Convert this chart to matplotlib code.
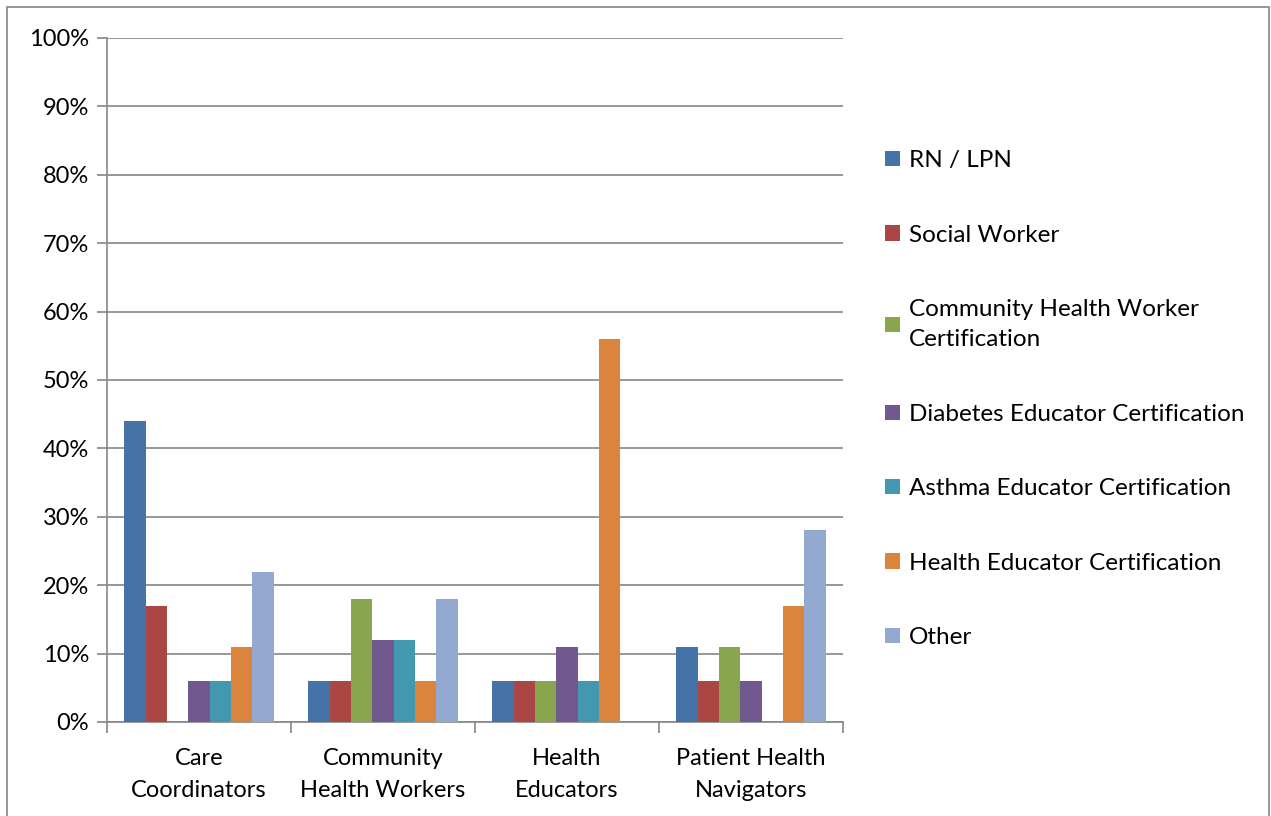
import numpy as np
import matplotlib
matplotlib.use("Agg")
import matplotlib.pyplot as plt
from matplotlib.patches import Rectangle

plt.rcParams['font.family'] = ['Lato', 'DejaVu Sans']

categories = ["Care\nCoordinators", "Community\nHealth Workers", "Health\nEducators", "Patient Health\nNavigators"]
series = ["RN / LPN", "Social Worker", "Community Health Worker\nCertification",
          "Diabetes Educator Certification", "Asthma Educator Certification",
          "Health Educator Certification", "Other"]
values = [
    [44, 6, 6, 11],
    [17, 6, 6, 6],
    [0, 18, 6, 11],
    [6, 12, 11, 6],
    [6, 12, 6, 0],
    [11, 6, 56, 17],
    [22, 18, 0, 28],
]
colors = ["#4572A7", "#AA4643", "#89A54E", "#71588F", "#4198AF", "#DB843D", "#93A9CF"]

fig = plt.figure(figsize=(12.71, 8.16), dpi=100)
ax = fig.add_axes([107/1271, 1-722/816, (843-107)/1271, (722-38)/816])

x = np.arange(len(categories))
w = 0.116
for i, (name, vals) in enumerate(zip(series, values)):
    ax.bar(x + (i - 3) * w, np.array(vals) / 100, w, color=colors[i], label=name, zorder=3)

ax.set_xlim(-0.5, 3.5)
ax.set_ylim(0, 1)
ax.set_yticks(np.arange(0, 1.01, 0.1))
ax.set_yticklabels([f"{int(round(v*100))}%" for v in np.arange(0, 1.01, 0.1)])
ax.yaxis.grid(True, color="#868686", linewidth=1.2, zorder=0)
ax.set_xticks(x)
ax.set_xticklabels(categories, linespacing=1.65)
ax.set_xticks(np.arange(-0.5, 4, 1), minor=True)
ax.tick_params(axis='x', which='major', length=0, pad=19, labelsize=17)
ax.tick_params(axis='x', which='minor', length=8, color="#868686", width=1.2)
ax.tick_params(axis='y', length=7, color="#868686", width=1.2, labelsize=17, pad=6)
for s in ["top", "right"]:
    ax.spines[s].set_visible(False)
for s in ["left", "bottom"]:
    ax.spines[s].set_color("#868686")
    ax.spines[s].set_linewidth(1.2)

leg = ax.legend(loc="center left", bbox_to_anchor=(1.028, 0.472), frameon=False, fontsize=17.5,
                handlelength=0.6, handleheight=0.6, handletextpad=0.35, labelspacing=2.2)
for t in leg.get_texts():
    t.set_linespacing(1.55)

fig.patches.append(Rectangle((7/1271, -0.01), 1262/1271, 1.01 - 7/816, transform=fig.transFigure,
                             fill=False, edgecolor="#868686", linewidth=1.2))

fig.savefig("out.png", dpi=100)
